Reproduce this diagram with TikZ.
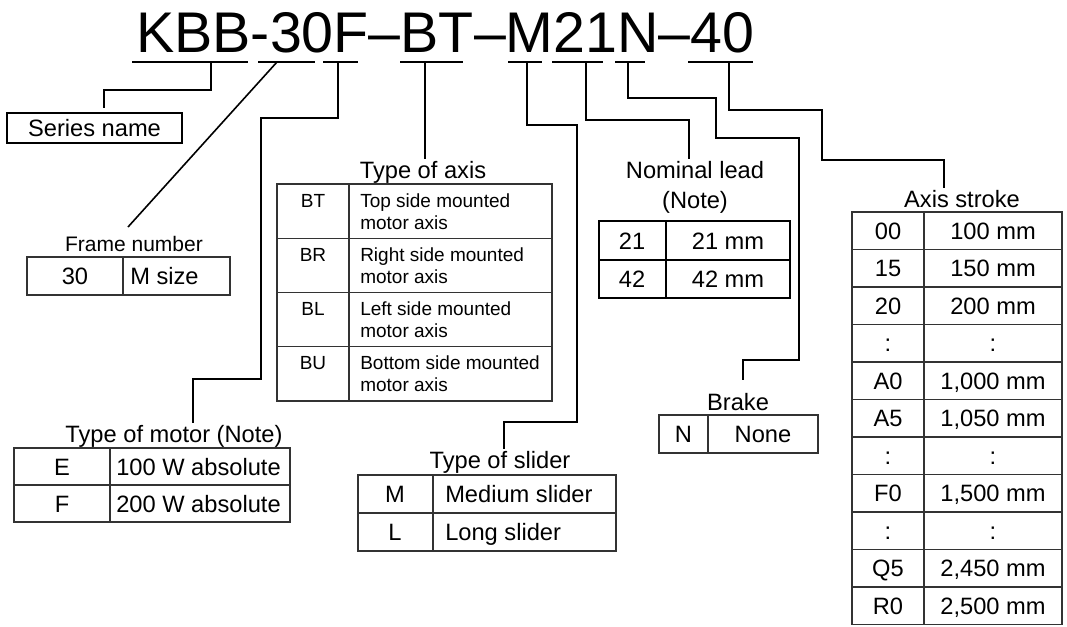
\documentclass[tikz,border=0pt]{standalone}
\usepackage{fontspec}
\setmainfont{Liberation Sans}
\usepackage{tikz}

\newcommand{\titlesize}{\fontsize{43pt}{48pt}\selectfont}
\newcommand{\labsize}{\fontsize{17.75pt}{21pt}\selectfont}
\newcommand{\frsize}{\fontsize{15.75pt}{19pt}\selectfont}
\newcommand{\smsize}{\fontsize{14.25pt}{16.5pt}\selectfont}

\begin{document}
\begin{tikzpicture}[x=0.75pt, y=-0.75pt,
    leader/.style={line width=1.2pt},
    uline/.style={line width=1.2pt},
    grid/.style={line width=0.8pt, draw=black!80},
    lab/.style={anchor=base, inner sep=1pt, font=\labsize},
    cell/.style={anchor=base, inner sep=0pt, font=\labsize},
    lcell/.style={anchor=base west, inner sep=0pt, font=\labsize}]

    \useasboundingbox (0,0) rectangle (1067,626);

    % ==========================================
    % Model code and its underlines
    % ==========================================
    \node[anchor=base west, inner sep=0pt, font=\titlesize] (title) at (136,52) {KBB-30F–BT–M21N–40};

    \foreach \a/\b/\c/\n in {132/248/211/kbb, 258/315/277/frame, 323/358/338/motor, 400/463/425/axis,
                             508/542/527/slider, 552/603/586/lead, 615/645/628/brake, 688/753/729/stroke}{
        \draw[uline] (\a,62) -- (\b,62);
        \coordinate (u\n) at (\c,62);
    }

    % ==========================================
    % Series name
    % ==========================================
    \node[draw, line width=1.2pt, minimum width=131pt, minimum height=22.5pt, inner sep=0pt, font=\labsize] (series) at (94.5,128) {Series name};
    \coordinate (kSeries) at (104,90);
    \draw[leader, shorten >=3.5pt] (ukbb) |- (kSeries) -- (kSeries |- series.north);

    % ==========================================
    % Frame number
    % ==========================================
    \node[anchor=base, inner sep=1pt, font=\frsize] (lFrame) at (134,251) {Frame number};
    \coordinate (kFrame) at (128,227);
    \draw[leader] (uframe) -- (kFrame);

    \draw[grid] (27,257) rectangle (230,295) (123,257) -- (123,295);
    \node[cell] (fCode) at (75,284.5) {30};
    \node[lcell] (fText) at (130,284.5) {M size};

    % ==========================================
    % Type of axis
    % ==========================================
    \node[lab] (lAxis) at (423,178) {Type of axis};
    \draw[leader] (uaxis) -- (uaxis |- lAxis.north);

    \draw[grid] (277,184) rectangle (552,401) (349,184) -- (349,401);
    \foreach \y in {238.25, 292.5, 346.75}
        \draw[grid] (277,\y) -- (552,\y);
    \foreach \c/\s [count=\i from 0] in {BT/Top, BR/Right, BL/Left, BU/Bottom}{
        \node[cell, font=\smsize] (aCode\i) at (313,184+54.25*\i+23) {\c};
        \node[lcell, font=\smsize] (aTop\i) at (360,184+54.25*\i+23) {\s\ side mounted};
        \node[lcell, font=\smsize] (aBot\i) at (360,184+54.25*\i+45) {motor axis};
    }

    % ==========================================
    % Type of motor
    % ==========================================
    \node[lab] (lMotor) at (174,442) {Type of motor (Note)};
    \coordinate (jMotor) at (261,118);
    \coordinate (kMotor) at (193,379);
    \draw[leader] (umotor) |- (jMotor) |- (kMotor) -- (kMotor |- lMotor.north);

    \draw[grid] (14,448) rectangle (290,522) (110,448) -- (110,522) (14,485) -- (290,485);
    \foreach \c/\s [count=\i from 0] in {E/100 W absolute, F/200 W absolute}{
        \node[cell] (mCode\i) at (62,475+37*\i) {\c};
        \node[lcell] (mText\i) at (116,475+37*\i) {\s};
    }

    % ==========================================
    % Type of slider
    % ==========================================
    \node[lab] (lSlider) at (500,468) {Type of slider};
    \coordinate (jSlider) at (577,125);
    \coordinate (kSlider) at (504,422);
    \draw[leader] (uslider) |- (jSlider) |- (kSlider) -- (kSlider |- lSlider.north);

    \draw[grid, line width=1pt] (358,475) rectangle (616,551) (433,475) -- (433,551) (358,513) -- (616,513);
    \foreach \c/\s [count=\i from 0] in {M/Medium slider, L/Long slider}{
        \node[cell] (sCode\i) at (395,502.5+38*\i) {\c};
        \node[lcell] (sText\i) at (445,502.5+38*\i) {\s};
    }

    % ==========================================
    % Nominal lead
    % ==========================================
    \node[lab] (lLead) at (695,178) {Nominal lead};
    \node[lab] (lNote) at (695,208) {(Note)};
    \coordinate (jLead) at (689,120);
    \draw[leader] (ulead) |- (jLead) -- (jLead |- lLead.north);

    \draw[line width=1.4pt] (599,221) rectangle (790,298) (666,221) -- (666,298) (599,260) -- (790,260);
    \foreach \c/\v [count=\i from 0] in {21/21 mm, 42/42 mm}{
        \node[cell] (lCode\i) at (632,249+38.5*\i) {\c};
        \node[cell] (lVal\i) at (728,249+38.5*\i) {\v};
    }

    % ==========================================
    % Brake
    % ==========================================
    \node[lab] (lBrake) at (738,410) {Brake};
    \coordinate (jBrake1) at (716,98);
    \coordinate (jBrake2) at (799,138);
    \coordinate (kBrake) at (743,360);
    \coordinate (eBrake) at (743,380);
    \draw[leader] (ubrake) |- (jBrake1) |- (jBrake2) |- (kBrake) -- (eBrake);

    \draw[grid] (659,415) rectangle (818,453) (708,415) -- (708,453);
    \node[cell] (bCode) at (683.5,442.5) {N};
    \node[cell] (bVal) at (763,442.5) {None};

    % ==========================================
    % Axis stroke
    % ==========================================
    \node[lab] (lStroke) at (962,207) {Axis stroke};
    \coordinate (jStroke1) at (822,110);
    \coordinate (jStroke2) at (944,160);
    \draw[leader] (ustroke) |- (jStroke1) |- (jStroke2) -- (jStroke2 |- lStroke.north);

    \draw[grid] (852,212) rectangle (1062,624.5);
    \draw[grid, line width=1.2pt] (924,212) -- (924,624.5);
    \foreach \i in {1,...,10}
        \draw[grid] (852,212+37.5*\i) -- (1062,212+37.5*\i);
    \foreach \c/\v [count=\i from 0] in {00/100 mm, 15/150 mm, 20/200 mm, :/:, A0/{1,000 mm}, A5/{1,050 mm},
                                         :/:, F0/{1,500 mm}, :/:, Q5/{2,450 mm}, R0/{2,500 mm}}{
        \node[cell] (kCode\i) at (888,239.25+37.5*\i) {\c};
        \node[cell] (kVal\i) at (993,239.25+37.5*\i) {\v};
    }

\end{tikzpicture}
\end{document}
